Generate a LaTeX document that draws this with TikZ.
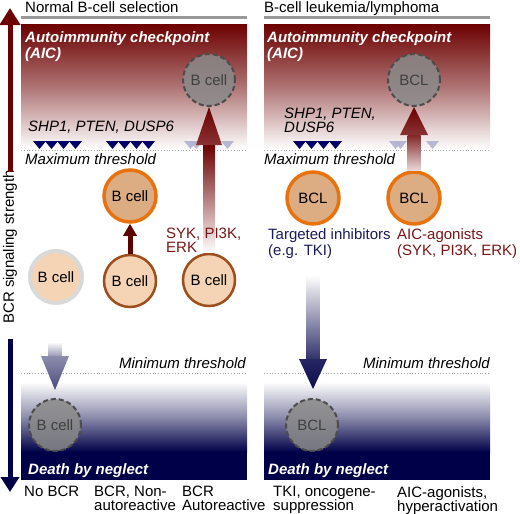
\documentclass[tikz,border=0pt]{standalone}
\usepackage{fontspec}
\setmainfont{Liberation Sans}
\usetikzlibrary{arrows.meta,calc,positioning}

\definecolor{aicred}{HTML}{6C0000}
\definecolor{darkred}{HTML}{7A1414}
\definecolor{negnavy}{HTML}{000048}
\definecolor{trinavy}{HTML}{000066}
\definecolor{txtnavy}{HTML}{1A1A5E}
\definecolor{cellfill}{HTML}{F4D4B4}
\definecolor{actfill}{HTML}{DCAC82}
\definecolor{actline}{HTML}{E8720E}
\definecolor{restline}{HTML}{9C4E1C}
\definecolor{ghostfill}{HTML}{8A8A8A}

\newcommand{\fsz}[1]{\lineskiplimit=-20pt\fontsize{15}{#1}\selectfont}
% row of inhibitor triangles: x, count, style
\newcommand{\inhibrow}[3]{%
	\foreach \k in {1,...,#2}
		\fill[#3] ({#1+12*(\k-1)},141) -- ++(13,0) -- ++(-6.5,8) -- cycle;}

\tikzset{
	x=1pt, y=-1pt,
	txt/.style={inner sep=0pt, anchor=north west, align=left},
	head/.style={txt, font=\fsz{16}},
	aic/.style={txt, text=white, font=\fsz{16}\bfseries\itshape},
	thr/.style={txt, font=\fsz{14}\itshape},
	lbl/.style={txt, font=\fsz{#1}},
	lbl/.default=14,
	cell/.style={circle, minimum size=52pt, inner sep=0pt, fill=cellfill, font=\fsz{16}},
	restcell/.style={cell, draw=restline, line width=2.5pt},
	nobcr/.style={cell, draw=black!15, line width=4pt},
	actcell/.style={cell, fill=actfill, draw=actline, line width=3.5pt},
	ghost/.style={circle, minimum size=52pt, inner sep=0pt, fill=ghostfill,
		fill opacity=.85, text opacity=1, draw=black!70, dash pattern=on 5pt off 3pt,
		line width=2pt, text=black!75, font=\fsz{16}},
	titlebar/.style={draw=black!40, line width=3pt},
	thline/.style={draw=black!35, dotted, line width=.8pt},
	inhib/.style={fill=trinavy},
	faded/.style={fill=trinavy!30, opacity=.9},
	upaxis/.style={draw=aicred, line width=5pt, -{Triangle[width=20pt,length=17pt]}},
	downaxis/.style={draw=negnavy, line width=5pt, -{Triangle[width=18pt,length=15pt]}},
	nudge/.style={draw=aicred!85!black, line width=5pt, -{Triangle[width=13pt,length=12pt]}},
}

\begin{document}
\begin{tikzpicture}
	\useasboundingbox (0,0) rectangle (520,514);

	% panels
	\shade[top color=aicred, bottom color=white, middle color=aicred!55] (21,24) rectangle (247,149);
	\shade[top color=aicred, bottom color=white, middle color=aicred!55] (264,24) rectangle (490,149);
	\shade[top color=white, bottom color=negnavy, middle color=negnavy!45] (21,382) rectangle (247,452);
	\shade[top color=white, bottom color=negnavy, middle color=negnavy!45] (264,382) rectangle (490,452);
	\fill[negnavy] (21,452) rectangle (247,480);
	\fill[negnavy] (264,452) rectangle (490,480);

	\draw[titlebar] (21,17) -- (247,17);
	\draw[titlebar] (264,17) -- (490,17);
	\draw[thline] (21,150) -- (247,150);
	\draw[thline] (264,150) -- (490,150);
	\draw[thline] (21,373) -- (247,373);
	\draw[thline] (264,373) -- (490,373);

	% headings and panel texts
	\node[head] (normal) at (25,1) {Normal B-cell selection};
	\node[head] (leuk) at (264,1) {B-cell leukemia/lymphoma};
	\node[aic] (aicL) at (25,31) {Autoimmunity checkpoint\\(AIC)};
	\node[aic] (aicR) at (267,31) {Autoimmunity checkpoint\\(AIC)};
	\node[thr] (shpL) at (28,121) {SHP1, PTEN, DUSP6};
	\node[thr] (shpR) at (284,108) {SHP1, PTEN,\\DUSP6};
	\node[thr] (maxL) at (25,153) {Maximum threshold};
	\node[thr] (maxR) at (264,153) {Maximum threshold};
	\node[thr, anchor=north east] (minL) at (246,357) {Minimum threshold};
	\node[thr, anchor=north east] (minR) at (490,357) {Minimum threshold};
	\node[aic] (deathL) at (28,463) {Death by neglect};
	\node[aic] (deathR) at (268,463) {Death by neglect};

	% inhibitors
	\inhibrow{33}{4}{inhib}
	\inhibrow{106}{4}{inhib}
	\inhibrow{293}{4}{inhib}
	\inhibrow{184}{1}{faded}
	\inhibrow{190}{1}{faded}
	\inhibrow{221}{1}{faded}
	\inhibrow{389}{1}{faded}
	\inhibrow{394}{1}{faded}
	\inhibrow{426}{1}{faded}

	% cells
	\node[ghost] (g1) at (209,80) {B cell};
	\node[ghost] (g2) at (414,80) {BCL};
	\node[nobcr] (nb) at (56,277) {B cell};
	\node[restcell] (mb) at (130,281) {B cell};
	\node[actcell] (mu) at (130,196) {B cell};
	\node[restcell] (ab) at (209,280) {B cell};
	\node[actcell] (bL) at (313,198) {BCL};
	\node[actcell] (bR) at (414,198) {BCL};
	\node[ghost] (d1) at (55,425) {B cell};
	\node[ghost] (d2) at (312,425) {BCL};

	% up arrows into the checkpoint
	\shade[top color=aicred, bottom color=white, middle color=aicred!50] ($(ab.north)+(-6,0)$) rectangle ($(g1.south)+(6,38)$);
	\shade[top color=aicred, bottom color=aicred!80] (g1.south) -- ++(-13,38) -- ++(26,0) -- cycle;
	\shade[top color=aicred!85, bottom color=aicred!15] ($(bR.north)+(-6.5,0)$) rectangle ($(g2.south)+(6.5,28)$);
	\shade[top color=aicred, bottom color=aicred!80] (g2.south) -- ++(-14,28) -- ++(28,0) -- cycle;
	\draw[nudge] (mb) -- (mu);

	% down arrows to death by neglect
	\coordinate (fallL) at (55,342);
	\coordinate (tipL) at ($(d1.north)+(0,-8)$);
	\coordinate (fallR) at (313,275);
	\coordinate (tipR) at ($(d2.north)+(1,-9)$);
	\shade[top color=white, bottom color=negnavy!40] ($(fallL)+(-6.5,0)$) rectangle ($(tipL)+(6.5,-34)$);
	\shade[top color=negnavy!45, bottom color=negnavy!70] (tipL) -- ++(-14,-34) -- ++(28,0) -- cycle;
	\shade[top color=white, bottom color=negnavy!80] ($(fallR)+(-6.5,0)$) rectangle ($(tipR)+(6.5,-30)$);
	\shade[top color=negnavy!85, bottom color=negnavy!95] (tipR) -- ++(-14,-30) -- ++(28,0) -- cycle;

	% labels near cells
	\node[lbl=13.5, text=darkred] (syk) at (166,228) {SYK, PI3K,\\ERK};
	\node[lbl=16, text=txtnavy] (tki) at (268,228) {Targeted inhibitors\\(e.g. TKI)};
	\node[lbl=16, text=darkred] (agon) at (397,228) {AIC-agonists\\(SYK, PI3K, ERK)};

	% axis
	\node[rotate=90, font=\fsz{16}] (axis) at (10,247) {BCR signaling strength};
	\coordinate (axtop) at (10,8);
	\coordinate (axbot) at (10,492);
	\draw[upaxis, shorten <=-5pt] (axis.east) -- (axtop);
	\draw[downaxis, shorten <=12pt] (axis.west) -- (axbot);

	% bottom captions
	\node[lbl] (capA) at (24,486) {No BCR};
	\node[lbl] (capB) at (94,486) {BCR, Non-\\autoreactive};
	\node[lbl] (capC) at (182,486) {BCR\\Autoreactive};
	\node[lbl] (capD) at (273,486) {TKI, oncogene-\\suppression};
	\node[lbl] (capE) at (397,486) {AIC-agonists,\\hyperactivation};
\end{tikzpicture}
\end{document}
